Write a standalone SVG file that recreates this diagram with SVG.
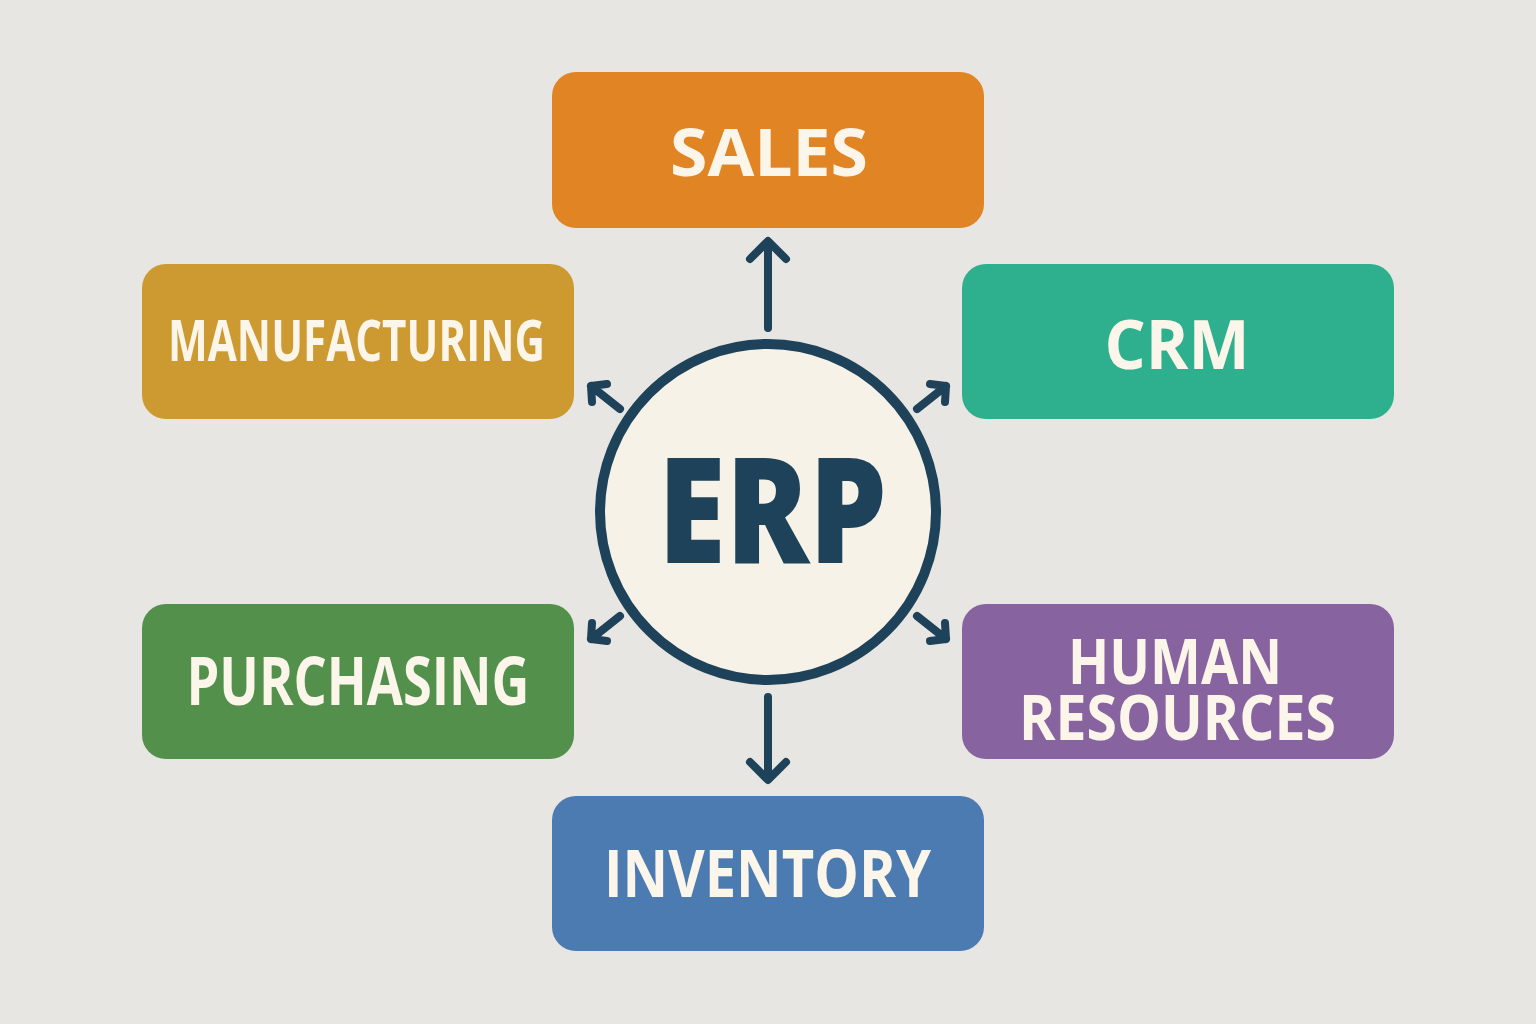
<svg xmlns="http://www.w3.org/2000/svg" width="1536" height="1024" viewBox="0 0 1536 1024">
<style>
.lbl{font-family:"Open Sans","Liberation Sans",sans-serif;font-weight:700;fill:#FBF5EA;text-anchor:middle}
.box{stroke:none}
.con{stroke:#1E4259;stroke-width:8;stroke-linecap:round;stroke-linejoin:round;fill:none}
</style>
<rect width="1536" height="1024" fill="#E8E6E2"/>
<g id="sales"><rect class="box" x="552" y="72" width="432" height="156" rx="24" fill="#E08424"/><text class="lbl" x="769" y="176" font-size="67" textLength="198" lengthAdjust="spacingAndGlyphs">SALES</text></g>
<g id="manufacturing"><rect class="box" x="142" y="264" width="432" height="155" rx="24" fill="#CC9A30"/><text class="lbl" x="356.5" y="361" font-size="57" textLength="377" lengthAdjust="spacingAndGlyphs">MANUFACTURING</text></g>
<g id="crm"><rect class="box" x="962" y="264" width="432" height="155" rx="24" fill="#2EB08F"/><text class="lbl" x="1177" y="369" font-size="68" textLength="145" lengthAdjust="spacingAndGlyphs">CRM</text></g>
<g id="purchasing"><rect class="box" x="142" y="604" width="432" height="155" rx="24" fill="#52904C"/><text class="lbl" x="358" y="705" font-size="66" textLength="343" lengthAdjust="spacingAndGlyphs">PURCHASING</text></g>
<g id="hr"><rect class="box" x="962" y="604" width="432" height="155" rx="24" fill="#8763A0"/><text class="lbl" x="1175" y="684" font-size="63" textLength="214" lengthAdjust="spacingAndGlyphs">HUMAN</text><text class="lbl" x="1177.5" y="740" font-size="63" textLength="317" lengthAdjust="spacingAndGlyphs">RESOURCES</text></g>
<g id="inventory"><rect class="box" x="552" y="796" width="432" height="155" rx="24" fill="#4B7BB0"/><text class="lbl" x="767.5" y="897" font-size="67" textLength="327" lengthAdjust="spacingAndGlyphs">INVENTORY</text></g>
<g id="erp"><circle cx="768" cy="512" r="168" fill="#F6F2E8" stroke="#1E4259" stroke-width="10"/><text x="772.5" y="563" font-family="'Open Sans','Liberation Sans',sans-serif" font-weight="800" font-size="148" fill="#1E4259" text-anchor="middle" textLength="229" lengthAdjust="spacingAndGlyphs">ERP</text></g>
<g id="connectors">
<path class="con" d="M768 328V242M750 259L768 241L786 259"/>
<path class="con" d="M768 697V779M750 762L768 780L786 762"/>
<path class="con" d="M620 409L591 386M591 386L592 402M591 386L607 384"/>
<path class="con" d="M917 409L946 386M946 386L930 384M946 386L945 402"/>
<path class="con" d="M620 616L591 639M591 639L607 641M591 639L592 623"/>
<path class="con" d="M917 616L946 639M946 639L945 623M946 639L930 641"/>
</g>
</svg>
